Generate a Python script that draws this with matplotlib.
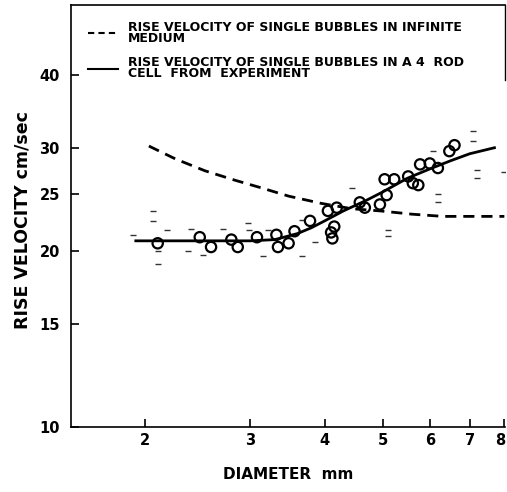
import matplotlib
matplotlib.use("Agg")
import matplotlib.pyplot as plt
from matplotlib.lines import Line2D
import matplotlib.transforms as mtransforms

plt.rcParams['font.family'] = ['DejaVu Sans']

# ---- data ----
infinite_d = [2.03, 2.25, 2.52, 2.83, 3.14, 3.48, 3.95, 4.44, 4.95, 5.6, 6.31, 7.2, 8.0]
infinite_v = [30.2, 28.7, 27.4, 26.4, 25.6, 24.8, 24.1, 23.6, 23.4, 23.1, 22.9, 22.9, 22.9]

exp_d = [1.93, 2.5, 3.0, 3.3, 3.6, 3.8, 4.0, 4.3, 4.7, 5.0, 5.5, 6.0, 6.5, 7.0, 7.7]
exp_v = [20.8, 20.8, 20.8, 20.9, 21.4, 21.9, 22.5, 23.4, 24.4, 25.2, 26.6, 27.6, 28.5, 29.3, 30.0]

circle_d = [2.10, 2.47, 2.58, 2.79, 2.86, 3.08, 3.32, 3.34, 3.48, 3.56, 3.78,
            4.05, 4.19, 4.10, 4.15, 4.12, 4.58, 4.67, 4.95, 5.04, 5.23, 5.08,
            5.52, 5.62, 5.74, 5.78, 6.00, 6.19, 6.47, 6.60]
circle_v = [20.6, 21.1, 20.3, 20.9, 20.3, 21.1, 21.3, 20.3, 20.6, 21.6, 22.5,
            23.4, 23.7, 21.5, 22.0, 21.0, 24.2, 23.7, 24.0, 26.5, 26.5, 24.9,
            26.8, 26.1, 25.9, 28.1, 28.2, 27.7, 29.6, 30.3]

frag_d = [2.06, 2.06, 2.18, 2.10, 2.10, 1.91, 2.39, 2.36, 2.70, 2.50, 2.97, 2.99,
          3.22, 3.15, 3.66, 3.66, 7.10, 7.10, 7.20, 7.20, 8.0, 6.20, 6.20, 5.10,
          5.10, 3.85, 4.45, 6.07]
frag_v = [23.4, 22.5, 21.7, 20.0, 19.0, 21.3, 21.8, 20.0, 21.8, 19.7, 22.3, 21.7,
          21.7, 19.6, 19.6, 22.6, 32.0, 30.8, 27.5, 26.6, 27.3, 25.0, 24.2, 21.7,
          21.2, 20.7, 25.6, 29.6]

x_ticks = [2, 3, 4, 5, 6, 7, 8]
y_ticks = [10, 15, 20, 25, 30, 40]

legend_labels = ["RISE VELOCITY OF SINGLE BUBBLES IN INFINITE\nMEDIUM",
                 "RISE VELOCITY OF SINGLE BUBBLES IN A 4  ROD\nCELL  FROM  EXPERIMENT"]

# ---- figure ----
W, H = 507, 492
fig = plt.figure(figsize=(W / 100, H / 100), dpi=100)
ax = fig.add_axes([71 / W, 1 - 427 / H, (505 - 71) / W, (427 - 5) / H])

ax.set_xscale('log')
ax.set_yscale('log')
ax.set_xlim(1.503, 8.02)
ax.set_ylim(10, 52.6)

ax.plot(infinite_d, infinite_v, color='black', lw=2.0, ls=(0, (4, 2.5)))
ax.plot(exp_d, exp_v, color='black', lw=2.0)
ax.scatter(frag_d, frag_v, marker='_', s=22, color='black', linewidths=1.0, alpha=0.8)
ax.scatter(circle_d, circle_v, s=55, facecolors='none', edgecolors='black', linewidths=1.6)

ax.xaxis.set_major_locator(matplotlib.ticker.FixedLocator(x_ticks))
ax.xaxis.set_minor_locator(matplotlib.ticker.NullLocator())
ax.yaxis.set_major_locator(matplotlib.ticker.FixedLocator(y_ticks))
ax.yaxis.set_minor_locator(matplotlib.ticker.NullLocator())
ax.set_xticklabels([str(t) for t in x_ticks])
ax.set_yticklabels([str(t) for t in y_ticks])

ax.tick_params(axis='both', direction='in', length=6, width=1.2, labelsize=10.5)
ax.tick_params(axis='x', pad=4)
ax.tick_params(axis='y', pad=8)
for lab in ax.get_xticklabels() + ax.get_yticklabels():
    lab.set_fontweight('bold')
# keep the last x label inside the canvas
xl = ax.get_xticklabels()
xl[-1].set_transform(xl[-1].get_transform() +
                     mtransforms.ScaledTranslation(-4 / 100, 0, fig.dpi_scale_trans))

for s in ['left', 'bottom', 'top']:
    ax.spines[s].set_linewidth(1.2)
ax.spines['right'].set_visible(False)
# right edge of the legend box
ax.plot([1, 1], [1, 1 - 75 / 422], transform=ax.transAxes, color='black', lw=1.0, clip_on=False)

ax.set_xlabel("DIAMETER  mm", fontsize=11, fontweight='bold', labelpad=14)
ax.set_ylabel("RISE VELOCITY cm/sec", fontsize=12.5, fontweight='bold')
ax.yaxis.set_label_coords(-0.09, 0.49)

handles = [Line2D([], [], color='black', lw=1.5, ls=(0, (3, 2))),
           Line2D([], [], color='black', lw=1.5)]
leg = ax.legend(handles, legend_labels, loc='upper left', bbox_to_anchor=(0.039, 0.963),
                frameon=False, fontsize=9, handlelength=2.4, handletextpad=0.8,
                labelspacing=0.95, borderaxespad=0, borderpad=0)
for t in leg.get_texts():
    t.set_fontweight('bold')
    t.set_linespacing(0.8)

fig.savefig("out.png", dpi=100)
